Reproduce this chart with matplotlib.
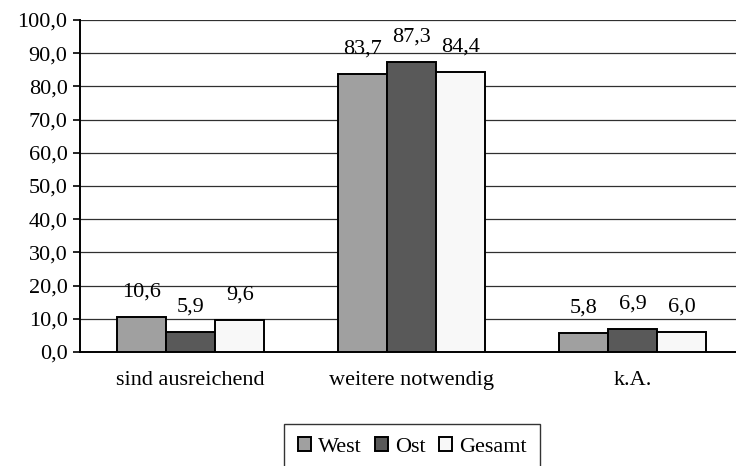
import numpy as np
import matplotlib.pyplot as plt
from matplotlib.ticker import FuncFormatter

categories = ['sind ausreichend', 'weitere notwendig', 'k.A.']
west = [10.6, 83.7, 5.8]
ost = [5.9, 87.3, 6.9]
gesamt = [9.6, 84.4, 6.0]
series = [('West', west, '#a0a0a0'), ('Ost', ost, '#595959'), ('Gesamt', gesamt, '#f8f8f8')]

plt.rcParams['font.family'] = ['Liberation Serif', 'DejaVu Serif']
plt.rcParams['font.size'] = 16

fig = plt.figure(figsize=(7.36, 4.66), dpi=100)
# plot area runs a little past the right edge of the figure
ax = fig.add_axes([80 / 736, (466 - 352) / 466, 663 / 736, 332 / 466])

x = np.arange(len(categories))
w = 0.223
for i, (name, vals, col) in enumerate(series):
    pos = x + (i - 1) * w
    ax.bar(pos, vals, width=w, color=col, edgecolor='black', linewidth=1.4, label=name, zorder=3)
    for p, v in zip(pos, vals):
        ax.annotate(f'{v:.1f}'.replace('.', ','), (p, v), xytext=(0, 18), textcoords='offset points',
                    ha='center', va='center', fontsize=16)

ax.set_xlim(-0.5, 2.5)
ax.set_ylim(0, 100)
ax.set_yticks(np.arange(0, 101, 10))
ax.yaxis.set_major_formatter(FuncFormatter(lambda v, p: f'{v:.1f}'.replace('.', ',')))
ax.yaxis.grid(True, color='#303030', linewidth=0.9, zorder=0)
ax.set_xticks(x)
ax.set_xticklabels(categories)
ax.tick_params(axis='x', length=0, pad=14)
ax.tick_params(axis='y', length=5, width=1.2, direction='out', pad=4)
for s in ['top', 'right']:
    ax.spines[s].set_visible(False)
ax.spines['left'].set_linewidth(1.4)
ax.spines['bottom'].set_linewidth(1.4)

fig.legend(loc='center', bbox_to_anchor=(412 / 736, (466 - 447) / 466), ncol=3, frameon=True,
           fancybox=False, edgecolor='black', handlelength=0.6, handleheight=0.6,
           handletextpad=0.3, columnspacing=0.6, borderpad=0.6, fontsize=16)

fig.savefig('out.png', dpi=100)
